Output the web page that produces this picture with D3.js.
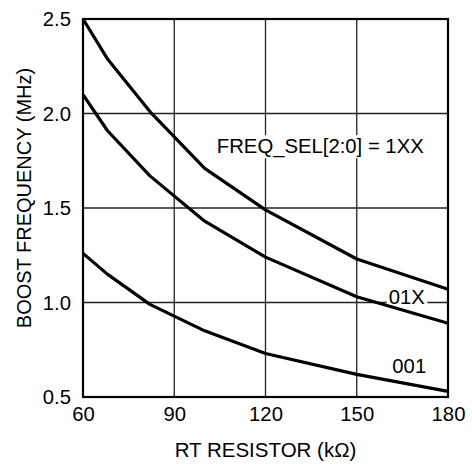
<!DOCTYPE html>
<html><head><meta charset="utf-8">
<script src="https://cdn.jsdelivr.net/npm/d3@7"></script>
<style>body{margin:0;background:#fff}</style>
</head><body>
<svg id="c" width="472" height="464"></svg>
<script>
const rtValues = [60, 68, 82, 100, 120, 150, 180];
const series1XX = [2.50, 2.29, 2.01, 1.71, 1.49, 1.23, 1.07];
const series01X = [2.10, 1.91, 1.67, 1.43, 1.24, 1.03, 0.89];
const series001 = [1.26, 1.15, 0.99, 0.85, 0.73, 0.62, 0.53];
const xTicks = [60, 90, 120, 150, 180];
const yTicks = [0.5, 1.0, 1.5, 2.0, 2.5];
const xTitle = "RT RESISTOR (kΩ)";
const yTitle = "BOOST FREQUENCY (MHz)";
const labels = [
  {text: "FREQ_SEL[2:0] = 1XX", x: 104, y: 1.79, bg: true},
  {text: "01X", x: 160.5, y: 0.992, bg: true},
  {text: "001", x: 161.7, y: 0.627, bg: false}
];

const svg = d3.select("#c");
const L = 83, R = 448, T = 19, B = 397;
const x = d3.scaleLinear().domain([60, 180]).range([L, R]);
const y = d3.scaleLinear().domain([0.5, 2.5]).range([B, T]);
const font = "Liberation Sans, Arial, sans-serif";
const fs = 20.3;

// grid
const g = svg.append("g");
g.selectAll(".vx").data(xTicks).join("line")
  .attr("x1", d => x(d)).attr("x2", d => x(d)).attr("y1", T).attr("y2", B)
  .attr("stroke", "#222").attr("stroke-width", 1.3);
g.selectAll(".hy").data(yTicks).join("line")
  .attr("x1", L).attr("x2", R).attr("y1", d => y(d)).attr("y2", d => y(d))
  .attr("stroke", "#222").attr("stroke-width", 1.3);

// labels with optional white background
const lab = svg.append("g");
labels.forEach(l => {
  const t = lab.append("text").attr("x", x(l.x)).attr("y", y(l.y))
    .attr("font-family", font).attr("font-size", fs).attr("fill", "#000").text(l.text);
  if (l.bg) {
    const bb = t.node().getBBox();
    lab.insert("rect", "text").attr("x", bb.x - 2).attr("y", bb.y)
      .attr("width", bb.width + 4).attr("height", bb.height).attr("fill", "#fff");
  }
});

// frame
svg.append("rect").attr("x", L).attr("y", T).attr("width", R - L).attr("height", B - T)
  .attr("fill", "none").attr("stroke", "#000").attr("stroke-width", 2.2);

// curves
const line = d3.line().x((d, i) => x(rtValues[i])).y(d => y(d));
[series1XX, series01X, series001].forEach(s => {
  svg.append("path").attr("d", line(s)).attr("fill", "none")
    .attr("stroke", "#000").attr("stroke-width", 3.2).attr("stroke-linejoin", "round");
});

// axes labels
const xAxis = d3.axisBottom(x).tickValues(xTicks).tickSize(0).tickPadding(10).tickFormat(d3.format("d"));
const xa = svg.append("g").attr("transform", `translate(0,${B})`).call(xAxis);
xa.select(".domain").remove();
xa.selectAll("text").attr("font-family", font).attr("font-size", fs).attr("fill", "#000").attr("dy", "0.71em");

const yAxis = d3.axisLeft(y).tickValues(yTicks).tickSize(0).tickPadding(12).tickFormat(d3.format(".1f"));
const ya = svg.append("g").attr("transform", `translate(${L},0)`).call(yAxis);
ya.select(".domain").remove();
ya.selectAll("text").attr("font-family", font).attr("font-size", fs).attr("fill", "#000");

svg.append("text").attr("x", (L + R) / 2).attr("y", 457).attr("text-anchor", "middle")
  .attr("font-family", font).attr("font-size", 20.5).attr("fill", "#000").text(xTitle);
svg.append("text").attr("transform", `translate(31,198) rotate(-90)`)
  .attr("text-anchor", "middle").attr("font-family", font).attr("font-size", 20)
  .attr("fill", "#000").text(yTitle);
</script>
</body></html>
